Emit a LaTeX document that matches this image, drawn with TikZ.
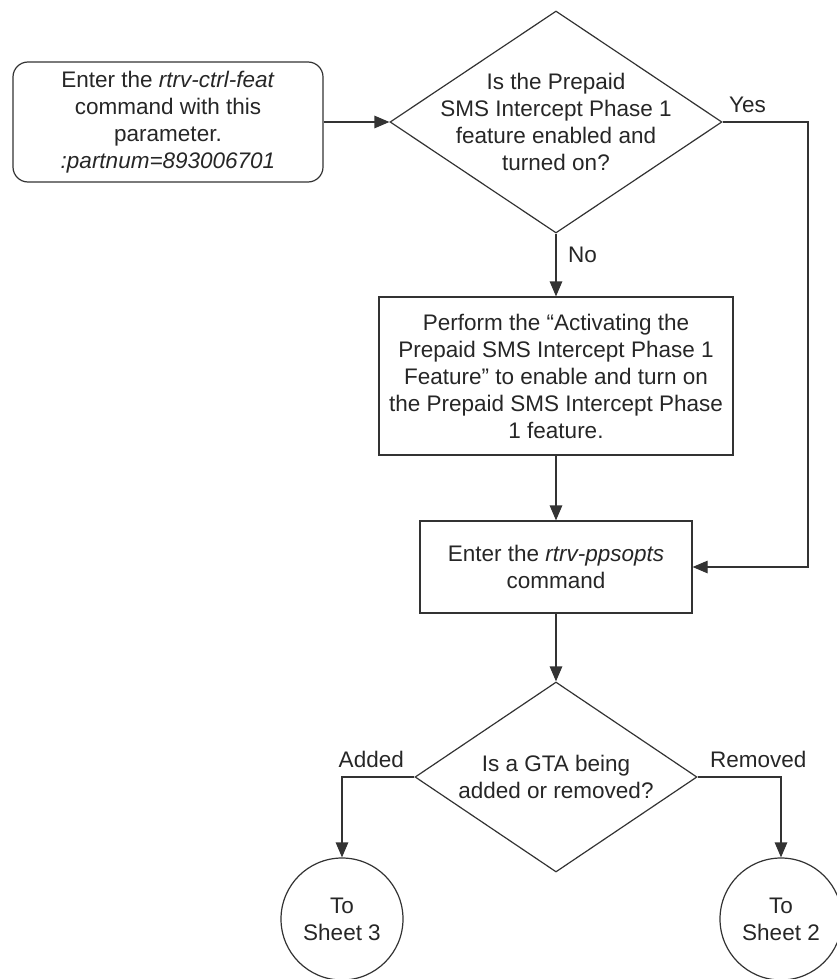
\documentclass[tikz,border=0pt]{standalone}
\usepackage{fontspec}
\setmainfont{Liberation Sans}
\usetikzlibrary{shapes.geometric,arrows.meta}

\begin{document}
\begin{tikzpicture}[x=1pt, y=-1pt, >={Triangle[length=15pt,width=12.5pt]},
    every node/.style={font=\fontsize{22.5}{27}\selectfont, text=black!85},
    box/.style={draw=black!80, line width=1.2pt, inner sep=0pt, align=center},
    decision/.style={diamond, draw=black!80, line width=1.2pt, inner sep=0pt},
    sheet/.style={circle, draw=black!80, line width=1.2pt, inner sep=0pt, minimum size=122pt, align=center},
    flow/.style={->, draw=black!80, line width=1.2pt},
    tag/.style={inner sep=0pt}]
    \useasboundingbox (0,0) rectangle (836,979);

    % 1. Hộp lệnh đầu tiên và ô hỏi về tính năng
    \node[box, rounded corners=15pt, minimum width=310pt, minimum height=120pt] (start) at (168,122)
        {Enter the \textit{rtrv-ctrl-feat}\\command with this\\parameter.\\\textit{:partnum=893006701}};
    \node[decision, minimum width=332pt, minimum height=222pt,
        label={[align=center]center:{Is the Prepaid\\SMS Intercept Phase 1\\feature enabled and\\turned on?}}] (feat) at (556,122) {};

    % 2. Các hộp ở giữa
    \node[box, minimum width=354pt, minimum height=158pt] (activate) at (556,376)
        {Perform the “Activating the\\Prepaid SMS Intercept Phase 1\\Feature” to enable and turn on\\the Prepaid SMS Intercept Phase\\1 feature.};
    \node[box, minimum width=272pt, minimum height=92pt] (ppsopts) at (556,567)
        {Enter the \textit{rtrv-ppsopts}\\command};

    % 3. Ô hỏi GTA và hai vòng tròn chuyển trang
    \node[decision, minimum width=282pt, minimum height=190pt,
        label={[align=center]center:{Is a GTA being\\added or removed?}}] (gta) at (556,777) {};
    \node[sheet] (sheet3) at (342,919) {To\\Sheet 3};
    \node[sheet] (sheet2) at (781,919) {To\\Sheet 2};

    % 4. Các mũi tên nối
    \draw[flow] (start) -- (feat);
    \draw[flow] (feat) -- (activate);
    \draw[flow] (activate) -- (ppsopts);
    \draw[flow] (ppsopts) -- (gta);
    \coordinate (yescorner) at (808,122);
    \draw[flow] (feat.east) -- (yescorner) |- (ppsopts.east);
    \draw[flow] (gta.west) -| (sheet3);
    \draw[flow] (gta.east) -| (sheet2);

    % Nhãn trên các nhánh
    \node[tag, anchor=base west] (yes) at (729,113) {Yes};
    \node[tag, anchor=base west] (no) at (568,262) {No};
    \node[tag, anchor=base east] (added) at (404,767) {Added};
    \node[tag, anchor=base west] (removed) at (710,767) {Removed};

\end{tikzpicture}
\end{document}
